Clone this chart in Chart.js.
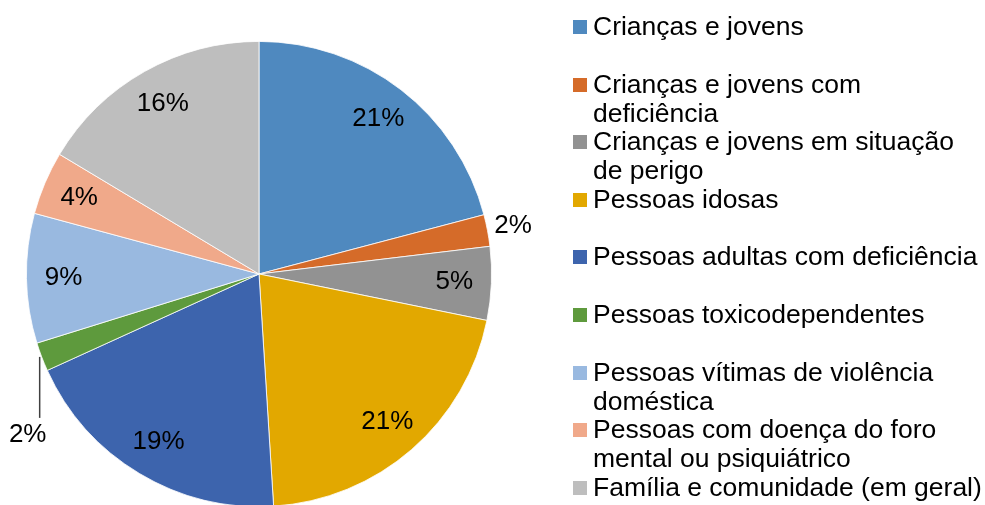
<!DOCTYPE html>
<html lang="pt">
<head>
    <meta charset="UTF-8">
    <title>Respostas sociais por população-alvo</title>
    <script src="https://cdn.jsdelivr.net/npm/chart.js"></script>
    <style>
        body {
            margin: 0;
            background: #ffffff;
            font-family: "Liberation Sans", Arial, sans-serif;
            overflow: hidden;
        }
        #wrap {
            position: relative;
            width: 985px;
            height: 505px;
        }
        #pie {
            position: absolute;
            left: 0;
            top: 0;
        }
        #legend {
            position: absolute;
            left: 573px;
            top: 0;
        }
        .item {
            position: absolute;
            left: 0;
            width: 412px;
        }
        .box {
            position: absolute;
            left: 0;
            top: 8px;
            width: 14px;
            height: 14px;
        }
        .txt {
            position: absolute;
            left: 20px;
            top: 0;
            width: 394px;
            font-size: 26.5px;
            line-height: 29px;
            color: #000;
        }
    </style>
</head>
<body>
<div id="wrap">
    <canvas id="pie" width="985" height="507"></canvas>
    <div id="legend"></div>
</div>
<script>
    // data (share of answers, %)
    const categories = [
        "Crianças e jovens",
        "Crianças e jovens com deficiência",
        "Crianças e jovens em situação de perigo",
        "Pessoas idosas",
        "Pessoas adultas com deficiência",
        "Pessoas toxicodependentes",
        "Pessoas vítimas de violência doméstica",
        "Pessoas com doença do foro mental ou psiquiátrico",
        "Família e comunidade (em geral)"
    ];
    const shares = [20.9, 2.2, 5.1, 20.8, 19.2, 2.0, 9.0, 4.4, 16.4];
    const colors = ["#4F89BF", "#D56B29", "#929292", "#E2A800", "#3D64AD", "#5E9A3D", "#99B9E0", "#F0A98A", "#BEBEBE"];

    // where each label goes: inside, outside, or below with a leader line
    const labelPlace = ["in", "out", "in", "in", "in", "leader", "in", "in", "in"];

    const sliceLabels = {
        id: "sliceLabels",
        afterDatasetsDraw(chart) {
            const ctx = chart.ctx;
            const arcs = chart.getDatasetMeta(0).data;
            ctx.save();
            ctx.font = "26px 'Liberation Sans', Arial, sans-serif";
            ctx.fillStyle = "#000";
            ctx.textAlign = "center";
            ctx.textBaseline = "middle";
            arcs.forEach((arc, i) => {
                const p = arc.getProps(["x", "y", "startAngle", "endAngle", "outerRadius"], true);
                const mid = (p.startAngle + p.endAngle) / 2;
                const txt = Math.round(shares[i]) + "%";
                const cos = Math.cos(mid), sin = Math.sin(mid);
                if (labelPlace[i] === "in") {
                    const d = p.outerRadius * 0.84;
                    ctx.fillText(txt, p.x + cos * d, p.y + sin * d);
                } else if (labelPlace[i] === "out") {
                    const d = p.outerRadius + 26;
                    ctx.fillText(txt, p.x + cos * d, p.y + sin * d);
                } else {
                    const ex = p.x + cos * p.outerRadius;
                    const ey = p.y + sin * p.outerRadius;
                    ctx.strokeStyle = "#404040";
                    ctx.lineWidth = 1.5;
                    ctx.beginPath();
                    ctx.moveTo(ex - 2, ey);
                    ctx.lineTo(ex - 2, ey + 61);
                    ctx.stroke();
                    ctx.fillText(txt, ex - 14, ey + 78);
                }
            });
            ctx.restore();
        }
    };

    new Chart(document.getElementById("pie"), {
        type: "pie",
        data: {
            labels: categories,
            datasets: [{
                data: shares,
                backgroundColor: colors,
                borderColor: "#ffffff",
                borderWidth: 0.8,
                hoverOffset: 0
            }]
        },
        options: {
            responsive: false,
            animation: false,
            layout: {
                padding: { left: 26, right: 493, top: 41, bottom: 0 }
            },
            plugins: {
                legend: { display: false },
                tooltip: { enabled: false }
            }
        },
        plugins: [sliceLabels]
    });

    // legend on the right, one slot per category
    const legend = document.getElementById("legend");
    categories.forEach((name, i) => {
        const item = document.createElement("div");
        item.className = "item";
        item.style.top = (12 + i * 57.6) + "px";
        item.innerHTML = '<div class="box" style="background:' + colors[i] + '"></div><div class="txt">' + name + '</div>';
        legend.appendChild(item);
    });
</script>
</body>
</html>
